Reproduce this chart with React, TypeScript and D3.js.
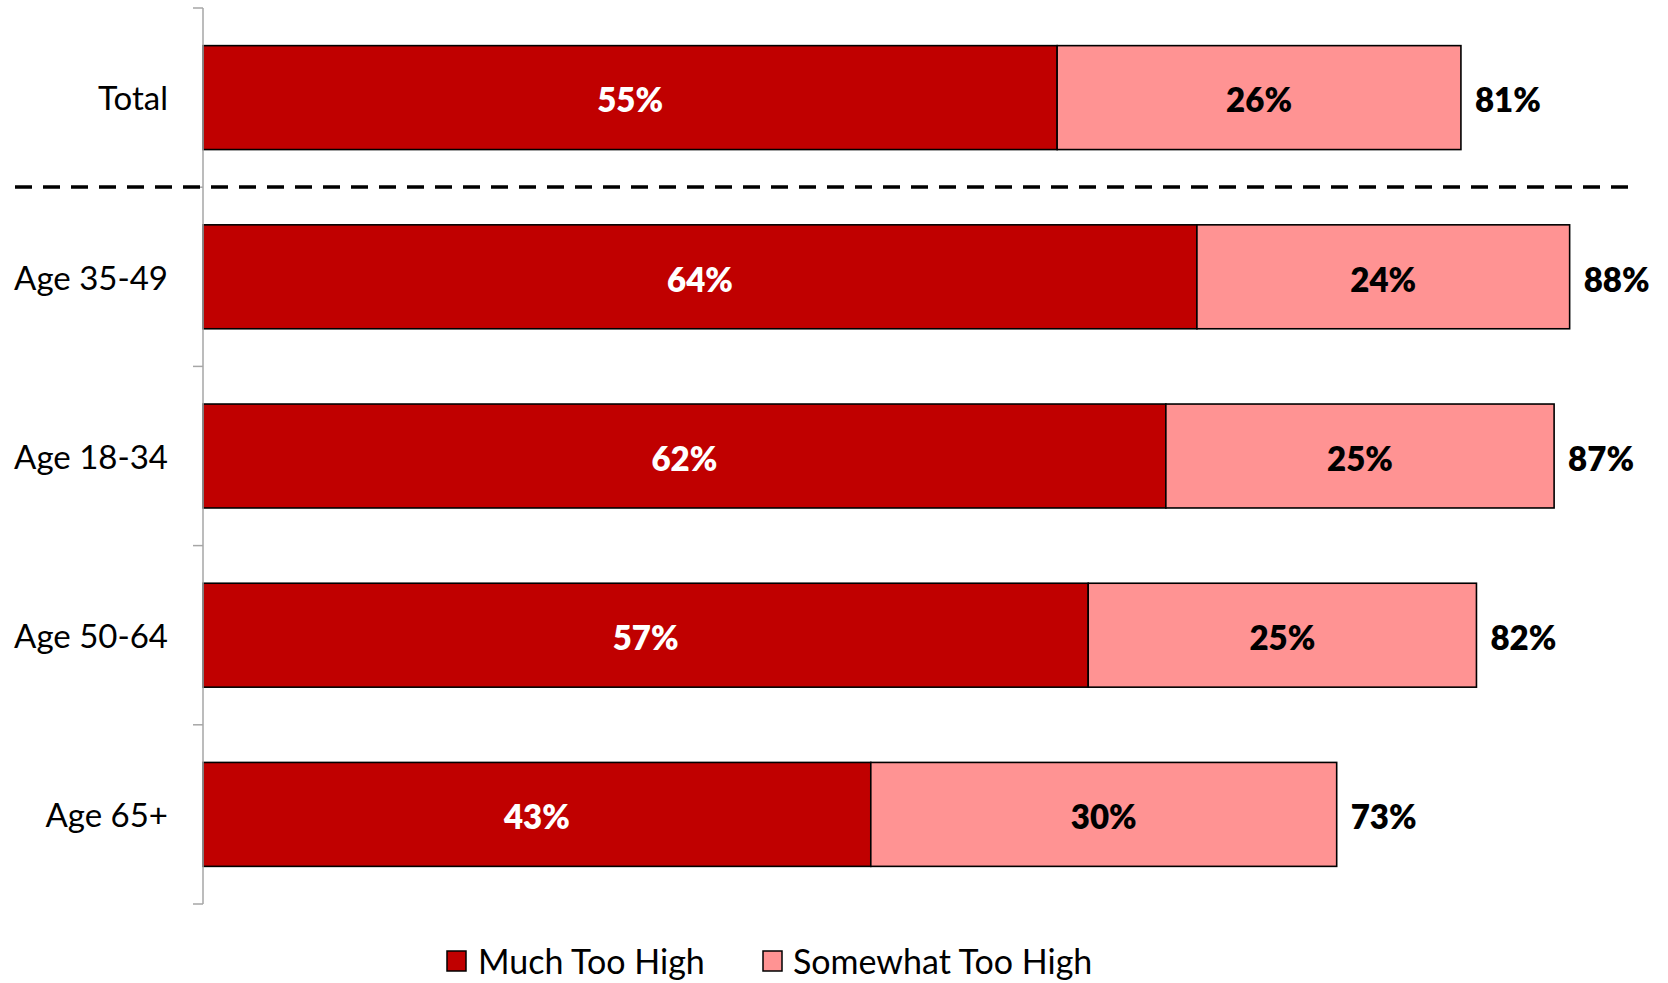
import React from "react";
import * as d3 from "d3";

const categories = ["Total", "Age 35-49", "Age 18-34", "Age 50-64", "Age 65+"];
const muchTooHigh = [55, 64, 62, 57, 43];
const somewhatTooHigh = [26, 24, 25, 25, 30];
const totals = [81, 88, 87, 82, 73];
const seriesNames = ["Much Too High", "Somewhat Too High"];
const seriesColors = ["#C00000", "#FF9393"];

const W = 1668;
const H = 983;
const FONT = "Lato, 'Open Sans', sans-serif";

export default function App() {
  const x = d3.scaleLinear().domain([0, 100]).range([203, 1756]);
  const y = d3.scaleBand<string>().domain(categories).range([8, 904]).paddingInner(0.42).paddingOuter(0.21);
  const band = d3.scaleBand<string>().domain(categories).range([8, 904]);
  const ticks = [...categories.map((c) => band(c) as number), 904];

  return (
    <svg width={W} height={H} style={{ position: "absolute", left: 0, top: 0, display: "block", background: "#fff" }} fontFamily={FONT}>
      {categories.map((c, i) => {
        const y0 = y(c) as number;
        const bh = y.bandwidth();
        const cy = y0 + bh / 2;
        const a = muchTooHigh[i];
        const b = somewhatTooHigh[i];
        return (
          <g key={c}>
            <rect x={x(0)} y={y0} width={x(a) - x(0)} height={bh} fill={seriesColors[0]} stroke="#000" strokeWidth={1.6} />
            <rect x={x(a)} y={y0} width={x(a + b) - x(a)} height={bh} fill={seriesColors[1]} stroke="#000" strokeWidth={1.6} />
            <text x={(x(0) + x(a)) / 2} y={cy + 3} dy="0.36em" textAnchor="middle" fill="#fff" fontWeight={800} fontSize={33}>{a}%</text>
            <text x={(x(a) + x(a + b)) / 2} y={cy + 3} dy="0.36em" textAnchor="middle" fill="#000" fontWeight={800} fontSize={33}>{b}%</text>
            <text x={x(a + b) + 14} y={cy + 3} dy="0.36em" textAnchor="start" fill="#000" fontWeight={800} fontSize={33}>{totals[i]}%</text>
            <text x={168} y={cy + 1} dy="0.36em" textAnchor="end" fill="#000" fontSize={33}>{c}</text>
          </g>
        );
      })}
      <line x1={203} x2={203} y1={8} y2={904} stroke="#A6A6A6" strokeWidth={1.5} />
      {ticks.map((t, i) => (
        <line key={i} x1={193} x2={203} y1={t} y2={t} stroke="#A6A6A6" strokeWidth={1.5} />
      ))}
      <line x1={15} x2={1628} y1={187} y2={187} stroke="#000" strokeWidth={3.5} strokeDasharray="17 11" />
      <g>
        <rect x={447} y={951} width={19} height={20} fill={seriesColors[0]} stroke="#000" strokeWidth={1.5} />
        <text x={478} y={962} dy="0.36em" fontSize={34} fill="#000">{seriesNames[0]}</text>
        <rect x={763} y={951} width={19} height={20} fill={seriesColors[1]} stroke="#000" strokeWidth={1.5} />
        <text x={793} y={962} dy="0.36em" fontSize={34} fill="#000">{seriesNames[1]}</text>
      </g>
    </svg>
  );
}
